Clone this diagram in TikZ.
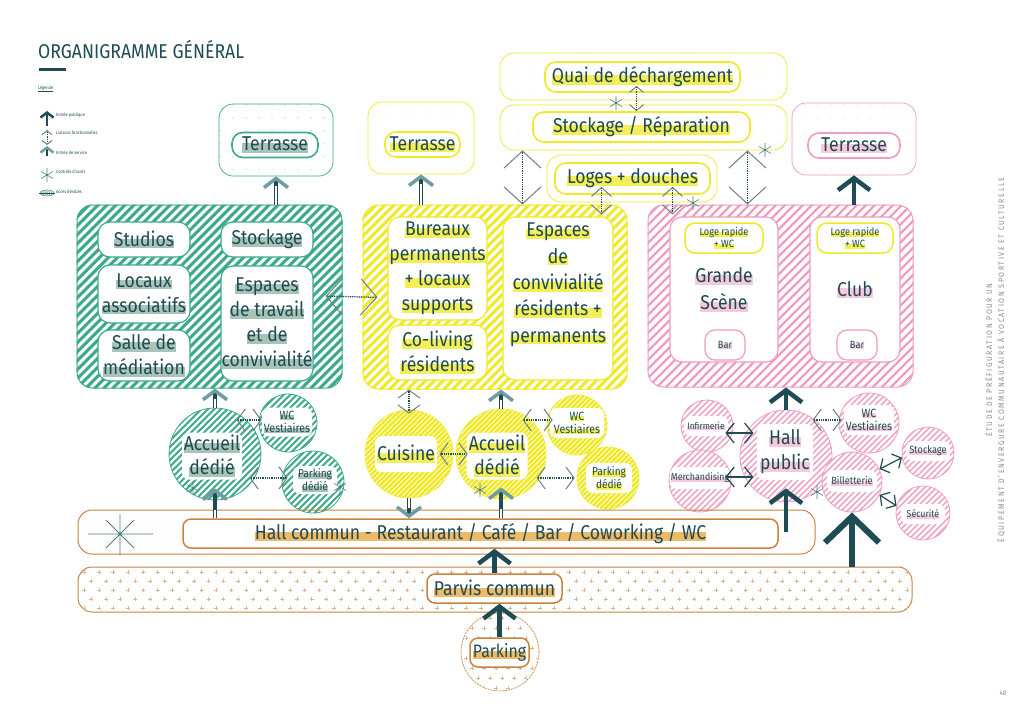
\documentclass[tikz,border=0pt]{standalone}
\usepackage{fontspec}
\setmainfont{Fira Sans}[FakeStretch=0.88]
\usetikzlibrary{arrows.meta,patterns.meta,calc}
\definecolor{ink}{HTML}{1E4B54}
\definecolor{grn}{HTML}{3AAA8A}
\definecolor{ylw}{HTML}{F0E927}
\definecolor{pnk}{HTML}{EF9DC1}
\definecolor{org}{HTML}{C9833F}
\definecolor{hlg}{HTML}{A8C4B8}
\definecolor{hly}{HTML}{F5EE57}
\definecolor{hlp}{HTML}{F6CADC}
\definecolor{hlo}{HTML}{EDBA6A}
\definecolor{tipc}{HTML}{6F9CA2}
\definecolor{lgc}{HTML}{6E7F84}
\definecolor{astc}{HTML}{4F7F86}
\newcommand\hlt[2]{\setbox0\hbox{#2}\rlap{\color{#1}\rule[-0.1em]{\wd0}{0.48em}}\box0}
\newcommand\hg[1]{\hlt{hlg}{#1}}
\newcommand\hy[1]{\hlt{hly}{#1}}
\newcommand\hp[1]{\hlt{hlp}{#1}}
\newcommand\ho[1]{\hlt{hlo}{#1}}
\newcommand\fsz[2]{\fontsize{#1}{#2}\selectfont}
% stripes inside a rounded box node: node, colour, horizontal period, line width
\newcommand\bstripes[4]{\begin{scope}\clip[rounded corners=16pt] (#1.south west) rectangle (#1.north east);
  \foreach \k in {-30,...,40}{\draw[#2, line width=#4] ($(#1.south west)+(\k*#3,0)$) -- ++(300,-300);}\end{scope}}
% stripes inside a circle node: node, colour, period, line width, radius
\newcommand\cstripes[5]{\begin{scope}\clip (#1.center) circle (#5);
  \foreach \k in {-20,...,20}{\draw[#2, line width=#4] ($(#1.center)+(\k*#3,0)+(-100,100)$) -- ++(200,-200);}\end{scope}}
\tikzset{
  sz/.style 2 args={minimum width=#1, minimum height=#2},
  zone/.style={draw=#1, line width=0.7pt, rounded corners=14pt, pattern={Dots[radius=0.55pt,distance=13pt]}, pattern color=#1, inner sep=0pt},
  pill/.style={draw=#1, line width=1.6pt, rounded corners=11pt, fill=white, text=ink, align=center, inner sep=0pt, font=\fsz{20}{24}},
  big/.style={draw=#1, line width=1pt, rounded corners=16pt, fill=white, inner sep=0pt},
  room/.style={draw=#1, line width=1.2pt, rounded corners=12pt, fill=white, inner sep=0pt, text=ink, align=center, font=\fsz{20}{25}},
  gcirc/.style={circle, draw=grn, line width=0.8pt, fill=white, inner sep=0pt, minimum size=#1},
  ycirc/.style={circle, draw=ylw, line width=0.8pt, fill=ylw, inner sep=0pt, minimum size=#1},
  pcirc/.style={circle, draw=pnk, line width=0.8pt, fill=white, inner sep=0pt, minimum size=#1},
  cin/.style 2 args={fill=white, rounded corners=7pt, inner sep=0pt, align=center, text=ink, minimum width=#1, minimum height=#2},
  opill/.style={draw=org, line width=1.5pt, rounded corners=8pt, fill=white, text=ink, inner sep=0pt, font=\fsz{20}{24}},
  pub/.style={draw=ink, line width=4.5pt, -{Straight Barb[length=12pt,width=32pt,line width=4.5pt]}},
  pubL/.style={draw=ink, line width=6.5pt, -{Straight Barb[length=26pt,width=54pt,line width=6pt]}},
  serv/.style={draw=ink, line width=3.4pt, -{Straight Barb[length=9pt,width=24pt,line width=3.5pt,color=tipc]},
    postaction={draw=white, line width=1.6pt, arrows=-, shorten >=10pt}},
  liai/.style 2 args={draw=ink, line width=1.3pt, dash pattern=on 1pt off 0.8pt, {Straight Barb[length=#1,width=#2,line width=1pt,color=lgc]}-{Straight Barb[length=#1,width=#2,line width=1pt,color=lgc]}},
  liaid/.style 2 args={draw=ink, line width=1.2pt, {Straight Barb[length=#1,width=#2,line width=1.2pt]}-{Straight Barb[length=#1,width=#2,line width=1.2pt]}},
  ast/.pic={\draw[line width=0.6pt, draw=astc] (0,-7)--(0,7) (-6,-3.5)--(6,3.5) (-6,3.5)--(6,-3.5);},
  leg/.style={anchor=west, text=ink, inner sep=0pt, font=\fsz{4.5}{5}},
}
\begin{document}
\begin{tikzpicture}[x=1pt,y=-1pt]
\fill[white] (0,0) rectangle (1024,715);
\useasboundingbox (0,0) rectangle (1024,715);

% ---------- title and legend ----------
\node[anchor=west, text=ink, inner sep=0pt, font=\fsz{20}{21}] (title) at (38,50) {ORGANIGRAMME GÉNÉRAL};
\fill[ink] (39,68) rectangle (66,71);
\node[leg] (legt) at (38,89) {\underline{Légende}};
\draw[ink, line width=2.5pt, -{Straight Barb[length=5pt,width=13pt,line width=2.5pt]}] (47,126) -- (47,111);
\node[leg] (l1) at (56,115) {Entrée publique};
\draw[liai={4pt}{10pt}, line width=0.8pt] (47,145) -- (47,130);
\node[leg] (l2) at (56,133) {Liaisons fonctionnelles};
\draw[serv, line width=2.6pt, -{Straight Barb[length=5pt,width=13pt,line width=2.5pt,color=tipc]}] (47,163) -- (47,146);
\node[leg] (l3) at (56,153) {Entrée de service};
\pic at (47,175) {ast};
\node[leg] (l4) at (56,172) {Contrôle d'accès};
\draw[tipc, line width=0.6pt, pattern={Lines[angle=45,distance=1.5pt,line width=0.5pt]}, pattern color=tipc] (47,193) ellipse (7 and 3);
\draw[ink, line width=0.6pt] (39,193) -- (55,193);
\node[leg] (l5) at (56,192) {Accès dérobés};

% ---------- green group ----------
\node[zone=grn, sz={114}{72}] (gterrz) at (276,140) {};
\node[pill=grn, sz={86}{25}] (gterr) at (275,145) {\hg{Terrasse}};
\node[big=grn, sz={265}{183}] (gbox) at (209.5,296.5) {};
\bstripes{gbox}{grn}{9}{3pt}
\node[room=grn, sz={92}{35}] (studios) at (144,239.5) {\hg{Studios}};
\node[room=grn, sz={92}{35}] (gstock) at (267,239.5) {\hg{Stockage}};
\node[room=grn, sz={92}{58}] (locaux) at (144,294) {\hg{Locaux}\\\hg{associatifs}};
\node[room=grn, sz={92}{51}] (salle) at (144,355.5) {\hg{Salle de}\\\hg{médiation}};
\node[room=grn, sz={92}{115}] (gesp) at (267,323.5) {\hg{Espaces}\\\hg{de travail}\\\hg{et de}\\\hg{convivialité}};
\node[gcirc=92] (gacc) at (215,454) {};
\cstripes{gacc}{grn}{6.5}{1.8pt}{46}
\node[cin={60}{47}, font=\fsz{20}{24}] (gacct) at (212,456) {\hg{Accueil}\\\hg{dédié}};
\node[gcirc=58] (gwc) at (288,423) {};
\cstripes{gwc}{grn}{6.5}{1.8pt}{29}
\node[cin={50}{29}, font=\fsz{12}{13}] (gwct) at (287,422) {\hg{WC}\\\hg{Vestiaires}};
\node[gcirc=62] (gpark) at (313,482) {};
\cstripes{gpark}{grn}{6.5}{1.8pt}{31}
\node[cin={44}{28}, font=\fsz{11.5}{13}] (gparkt) at (315,480) {\hg{Parking}\\\hg{dédié}};

% ---------- yellow group ----------
\node[zone=ylw, sz={106}{72}] (yterrz) at (421,138) {};
\node[pill=ylw, sz={75}{25}] (yterr) at (422.5,144.5) {\hy{Terrasse}};
\node[big=ylw, sz={264}{184}] (ybox) at (495,297) {};
\bstripes{ybox}{ylw}{9}{3pt}
\node[room=ylw, sz={99}{103}] (bureaux) at (437.5,268.5) {\hy{Bureaux}\\\hy{permanents}\\\hy{+ locaux}\\\hy{supports}};
\node[room=ylw, sz={99}{55}] (coliving) at (437.5,352.5) {\hy{Co-living}\\\hy{résidents}};
\node[room=ylw, sz={110}{163}] (yesp) at (558,298.5) {};
\node[anchor=north, text=ink, align=center, inner sep=0pt, font=\fsz{20}{26.3}] (yespt) at (558,223) {\hy{Espaces}\\\hy{de}\\\hy{convivialité}\\\hy{résidents +}\\\hy{permanents}};
\node[zone=ylw, sz={287}{47}] (quaiz) at (643.5,76.5) {};
\node[pill=ylw, sz={195}{30}] (quai) at (642.5,77) {\hy{Quai de déchargement}};
\node[zone=ylw, sz={287}{45}] (stockz) at (643.5,127.5) {};
\node[pill=ylw, sz={217}{30}] (stockp) at (641.5,127) {\hy{Stockage / Réparation}};
\node[zone=ylw, sz={170}{47}] (logesz) at (632,178.5) {};
\node[pill=ylw, sz={155}{31}] (logesp) at (632.5,178.5) {\hy{Loges + douches}};
\node[ycirc=88] (cuisine) at (409,454) {};
\cstripes{cuisine}{white}{5}{0.7pt}{44}
\node[cin={62}{36}, font=\fsz{20}{24}] (cuisinet) at (406,454) {\hy{Cuisine}};
\node[ycirc=90] (yacc) at (501,454) {};
\cstripes{yacc}{white}{5}{0.7pt}{45}
\node[cin={61}{47}, font=\fsz{20}{24}] (yacct) at (497,456) {\hy{Accueil}\\\hy{dédié}};
\node[ycirc=60] (ywc) at (577,425) {};
\cstripes{ywc}{white}{5}{0.7pt}{30}
\node[cin={54}{30}, font=\fsz{12}{13}] (ywct) at (577,423) {\hy{WC}\\\hy{Vestiaires}};
\node[ycirc=62] (ypark) at (608,478) {};
\cstripes{ypark}{white}{5}{0.7pt}{31}
\node[cin={46}{30}, font=\fsz{11.5}{13}] (yparkt) at (609,478) {\hy{Parking}\\\hy{dédié}};

% ---------- pink group ----------
\node[zone=pnk, sz={124}{72}] (pterrz) at (854,139) {};
\node[pill=pnk, sz={92}{25}] (pterr) at (854,145.5) {\hp{Terrasse}};
\node[big=pnk, sz={265}{182}] (pbox) at (780.5,296) {};
\bstripes{pbox}{pnk}{9}{2.4pt}
\node[room=pnk, sz={108}{145}, font=\fsz{20}{27}] (grande) at (724,289.5) {\hp{Grande}\\\hp{Scène}};
\node[room=pnk, sz={90}{145}] (club) at (855,289.5) {\hp{Club}};
\node[room=ylw, line width=1.5pt, rounded corners=10pt, sz={78}{30}, font=\fsz{10.5}{12}] (loge1) at (724,238) {\hy{Loge rapide}\\\hy{+ WC}};
\node[room=ylw, line width=1.5pt, rounded corners=10pt, sz={76}{30}, font=\fsz{10.5}{12}] (loge2) at (855,238) {\hy{Loge rapide}\\\hy{+ WC}};
\node[room=pnk, rounded corners=10pt, sz={40}{30}, font=\fsz{10.5}{12}] (bar1) at (725,345) {\hp{Bar}};
\node[room=pnk, rounded corners=10pt, sz={40}{30}, font=\fsz{10.5}{12}] (bar2) at (857,345) {\hp{Bar}};
\node[pcirc=92] (hallpub) at (786,456) {};
\cstripes{hallpub}{pnk}{6}{1.4pt}{46}
\node[cin={56}{56}, font=\fsz{20}{25}] (hallpubt) at (785,452) {\hp{Hall}\\\hp{public}};
\node[pcirc=52] (infirm) at (707,426) {};
\cstripes{infirm}{pnk}{6}{1.4pt}{26}
\node[cin={44}{20}, font=\fsz{9.5}{11}] (infirmt) at (706,426) {\hp{Infirmerie}};
\node[pcirc=62] (merch) at (700,481) {};
\cstripes{merch}{pnk}{6}{1.4pt}{31}
\node[cin={60}{22}, font=\fsz{10}{11}] (mercht) at (700,478) {\hp{Merchandising}};
\node[pcirc=60] (pwc) at (869,423) {};
\cstripes{pwc}{pnk}{6}{1.4pt}{30}
\node[cin={50}{30}, font=\fsz{12}{13}] (pwct) at (869,420) {\hp{WC}\\\hp{Vestiaires}};
\node[pcirc=60] (billet) at (852,482) {};
\cstripes{billet}{pnk}{6}{1.4pt}{30}
\node[cin={50}{22}, font=\fsz{10.5}{11}] (billett) at (852,481) {\hp{Billetterie}};
\node[pcirc=52] (pstock) at (928,453) {};
\cstripes{pstock}{pnk}{6}{1.4pt}{26}
\node[cin={44}{20}, font=\fsz{10.5}{11}] (pstockt) at (928,451) {\hp{Stockage}};
\node[pcirc=54] (secu) at (923,513) {};
\cstripes{secu}{pnk}{6}{1.4pt}{27}
\node[cin={44}{20}, font=\fsz{10}{11}] (secut) at (923,514) {\hp{Sécurité}};

% ---------- orange group ----------
\node[draw=org, line width=1pt, rounded corners=14pt, sz={737}{44}, pattern={Dots[radius=0.4pt,distance=5pt]}, pattern color=org!45] (hallz) at (446.5,532) {};
\node[opill, sz={595}{29}] (hall) at (480.5,533.5) {\ho{Hall commun - Restaurant / Café / Bar / Coworking / WC}};
\node[draw=org, line width=1pt, rounded corners=14pt, sz={834}{45}] (parvisz) at (495,589.5) {};
\begin{scope}
\clip[rounded corners=14pt] (parvisz.north west) rectangle (parvisz.south east);
\foreach \i in {0,...,56} \foreach \j in {0,...,4} {
  \pgfmathsetmacro\xx{84+\i*14.7+mod(\j,2)*7}
  \pgfmathsetmacro\yy{572+\j*9}
  \draw[org!60, line width=0.4pt] (\xx-2,\yy) -- (\xx+2,\yy) (\xx,\yy-2) -- (\xx,\yy+2);
}
\end{scope}
\node[opill, sz={135}{29}] (parvis) at (494.5,588.5) {\ho{Parvis commun}};
\node[circle, draw=org, line width=0.7pt, dash pattern=on 2pt off 1pt, minimum size=78, inner sep=0pt] (parkc) at (500,652) {};
\begin{scope}
\clip (parkc.center) circle (38);
\foreach \i in {0,...,6} \foreach \j in {0,...,7} {
  \pgfmathsetmacro\xx{466+\i*12+mod(\j,2)*6}
  \pgfmathsetmacro\yy{618+\j*10}
  \draw[org!60, line width=0.4pt] (\xx-2,\yy) -- (\xx+2,\yy) (\xx,\yy-2) -- (\xx,\yy+2);
}
\end{scope}
\node[opill, sz={59}{29}, font=\fsz{18}{22}] (parking) at (499.5,652.5) {\ho{Parking}};
\draw[astc, line width=0.8pt] (88,534) -- (153,534) (120,514) -- (120,555) (106,520) -- (134,548) (106,548) -- (134,520);

% ---------- connectors: green ----------
\draw[serv] (gbox.north -| gterrz.south) -- (gterrz.south);
\draw[serv] (gacc.north) -- (gacc.north |- gbox.south);
\draw[serv, shorten >=-12pt] (gacc.south |- hall.north) -- (gacc.south);
\draw[liai={16pt}{36pt}, shorten <=-17pt, shorten >=-15pt] (gbox.east) -- (ybox.west);
\draw[liai={8pt}{22pt}] ([shift={(-22,-3)}]gwc.west) -- ([shift={(3,-3)}]gwc.west);
\draw[liai={8pt}{22pt}] ([shift={(-32,-4)}]gpark.west) -- ([shift={(6,-4)}]gpark.west);
\pic at (193,488) {ast};
\pic at (340,487) {ast};

% ---------- connectors: yellow ----------
\draw[serv] (ybox.north -| yterrz.south) -- (yterrz.south);
\draw[liai={17pt}{37pt}] ([xshift=-121pt]stockz.south) -- ([xshift=-121pt]stockz.south |- ybox.north);
\draw[liai={17pt}{37pt}] ([xshift=104pt]stockz.south) -- ([xshift=104pt]stockz.south |- pbox.north);
\draw[liai={6pt}{14pt}, shorten <=-7pt] ([xshift=-6pt]quai.south) -- ([xshift=-6pt]quai.south |- stockp.north);
\draw[liai={9pt}{20pt}, shorten <=-8pt, shorten >=-10pt] ([xshift=-31pt]logesp.south) -- ([xshift=-31pt]logesp.south |- ybox.north);
\draw[liai={9pt}{20pt}, shorten <=-8pt, shorten >=-10pt] ([xshift=40pt]logesp.south) -- ([xshift=40pt]logesp.south |- pbox.north);
\draw[liai={8pt}{22pt}, shorten >=-4pt] (cuisine.north |- ybox.south) -- (cuisine.north);
\draw[liai={8pt}{22pt}, shorten <=-14pt, shorten >=-12pt] (cuisine.east) -- (yacc.west);
\draw[serv] (yacc.north) -- (yacc.north |- ybox.south);
\draw[serv, shorten >=-12pt] (yacc.south |- hall.north) -- (yacc.south);
\draw[liai={8pt}{22pt}] ([shift={(-24,-5)}]ywc.west) -- ([shift={(6,-5)}]ywc.west);
\draw[liai={8pt}{22pt}] ([xshift=-40pt]ypark.west) -- ([xshift=-2pt]ypark.west);
\draw[serv] (cuisine.south) -- (cuisine.south |- hall.north);
\pic at (616,103) {ast};
\pic at (765,150) {ast};
\pic at (693,203) {ast};
\pic at (480,490) {ast};

% ---------- connectors: pink ----------
\draw[pub] (pbox.north -| pterrz.south) -- (pterrz.south);
\draw[pub] (hallpub.north) -- (hallpub.north |- pbox.south);
\draw[pub, shorten >=-14pt] (hallpub.south |- hallz.center) -- (hallpub.south);
\draw[pubL] (billet.south |- parvisz.north) -- (billet.south);
\draw[liaid={8pt}{20pt}] ([shift={(-8,7)}]infirm.east) -- ([shift={(20,7)}]infirm.east);
\draw[liaid={8pt}{20pt}] ([shift={(-6,-4)}]merch.east) -- ([shift={(22,-4)}]merch.east);
\draw[liai={8pt}{22pt}] ([shift={(-26,-3)}]pwc.west) -- ([shift={(3,-3)}]pwc.west);
\draw[liaid={7pt}{16pt}] (billet.25) -- (pstock.190);
\draw[liaid={7pt}{16pt}] (billet.-25) -- (secu.165);
\pic at (817,492) {ast};

% ---------- orange connectors ----------
\draw[pub] (parking.north) -- (parking.north |- parvis.south);
\draw[pub] (parvis.north) -- (parvis.north |- hall.south);

% ---------- side text ----------
\node[rotate=90, text=black!45, align=center, inner sep=0pt, font=\fsz{8}{12}\addfontfeatures{LetterSpace=20}] (side) at (995,360) {ÉTUDE DE PRÉFIGURATION POUR UN\\ÉQUIPEMENT D'ENVERGURE COMMUNAUTAIRE À VOCATION SPORTIVE ET CULTURELLE};
\node[text=black!45, inner sep=0pt, font=\fsz{7}{8}] (pg) at (1003,693) {48};
\end{tikzpicture}
\end{document}
